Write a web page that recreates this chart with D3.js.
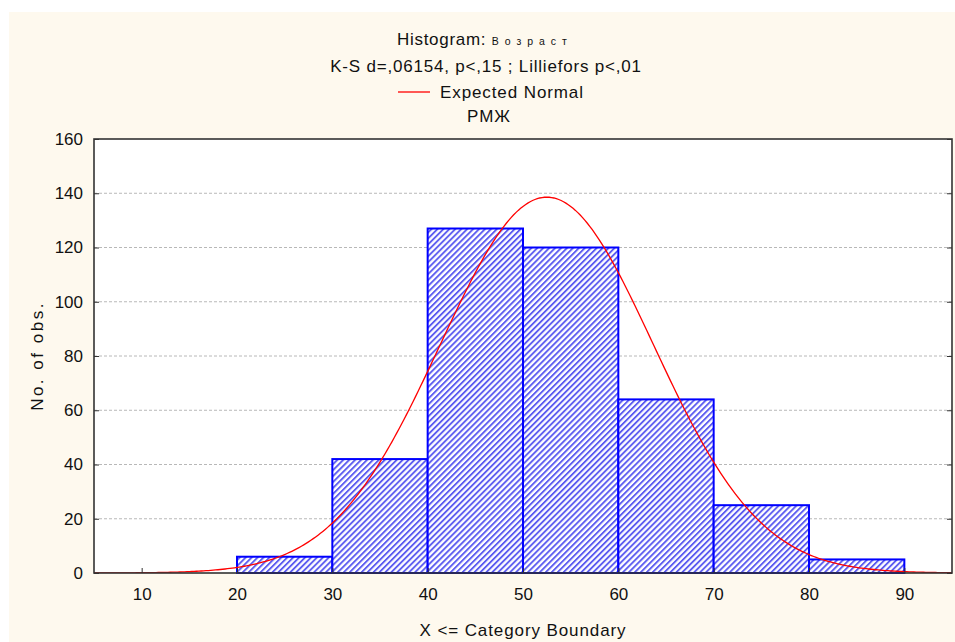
<!DOCTYPE html>
<html>
<head>
<meta charset="utf-8">
<script src="https://cdn.jsdelivr.net/npm/d3@7"></script>
<style>
  html, body { margin: 0; padding: 0; background: #ffffff; }
  svg { display: block; font-family: "Liberation Sans", Arial, sans-serif; }
</style>
</head>
<body>
<svg id="chart" width="955" height="642"></svg>
<script>
// ---- data ----
const binLower = [20, 30, 40, 50, 60, 70, 80];
const binUpper = [30, 40, 50, 60, 70, 80, 90];
const counts   = [6, 42, 127, 120, 64, 25, 5];
const xTicks = [10, 20, 30, 40, 50, 60, 70, 80, 90];
const yTicks = [0, 20, 40, 60, 80, 100, 120, 140, 160];
const xDomain = [5, 95];
const yDomain = [0, 160];
// expected normal parameters (fitted)
const normalN = 389, normalMean = 52.5, normalSD = 11.2, binWidth = 10;

const titleText = "Histogram:";
const titleVar = "Возраст";
const subtitle = "K-S d=,06154, p<,15 ; Lilliefors p<,01";
const legendText = "Expected Normal";
const groupText = "РМЖ";
const xLabel = "X <= Category Boundary";
const yLabel = "No. of obs.";

// ---- layout ----
const W = 955, H = 642;
const plot = { left: 94, right: 952, top: 139, bottom: 573 };

const svg = d3.select("#chart");

svg.append("rect").attr("x", 9).attr("y", 12).attr("width", W - 9).attr("height", H - 12)
  .attr("fill", "#fef9ee");

const x = d3.scaleLinear().domain(xDomain).range([plot.left, plot.right]);
const y = d3.scaleLinear().domain(yDomain).range([plot.bottom, plot.top]);

const defs = svg.append("defs");
const pat = defs.append("pattern").attr("id", "hatch")
  .attr("patternUnits", "userSpaceOnUse").attr("width", 4.2).attr("height", 4.2)
  .attr("patternTransform", "rotate(45)");
pat.append("rect").attr("width", 4.2).attr("height", 4.2).attr("fill", "#ffffff");
pat.append("rect").attr("width", 1.9).attr("height", 4.2).attr("fill", "#5c5cf0");

defs.append("clipPath").attr("id", "plotclip").append("rect")
  .attr("x", plot.left).attr("y", plot.top)
  .attr("width", plot.right - plot.left).attr("height", plot.bottom - plot.top);

// plot background
svg.append("rect").attr("x", plot.left).attr("y", plot.top)
  .attr("width", plot.right - plot.left).attr("height", plot.bottom - plot.top)
  .attr("fill", "#ffffff");

// gridlines
svg.append("g").selectAll("line").data(yTicks.filter(d => d > 0 && d < 160)).join("line")
  .attr("x1", plot.left).attr("x2", plot.right)
  .attr("y1", d => y(d)).attr("y2", d => y(d))
  .attr("stroke", "#b8b8b8").attr("stroke-width", 1).attr("stroke-dasharray", "3,2");

// bars
const bins = counts.map((c, i) => ({ lo: binLower[i], hi: binUpper[i], c }));
svg.append("g").selectAll("rect").data(bins).join("rect")
  .attr("x", d => x(d.lo)).attr("y", d => y(d.c))
  .attr("width", d => x(d.hi) - x(d.lo)).attr("height", d => y(0) - y(d.c))
  .attr("fill", "url(#hatch)").attr("stroke", "#0000ff").attr("stroke-width", 2);

// expected normal curve
const pdf = v => normalN * binWidth / (normalSD * Math.sqrt(2 * Math.PI)) *
  Math.exp(-0.5 * Math.pow((v - normalMean) / normalSD, 2));
const curvePts = d3.range(xDomain[0], xDomain[1] + 0.01, 0.25).map(v => [v, pdf(v)]);
svg.append("path").datum(curvePts)
  .attr("clip-path", "url(#plotclip)")
  .attr("d", d3.line().x(d => x(d[0])).y(d => y(d[1])))
  .attr("fill", "none").attr("stroke", "#ff0000").attr("stroke-width", 1.3);

// axes
const yAxis = d3.axisLeft(y).tickValues(yTicks).tickSize(-5).tickPadding(11);
const gy = svg.append("g").attr("transform", `translate(${plot.left},0)`).call(yAxis);
const yAxisR = d3.axisRight(y).tickValues(yTicks).tickSize(-5).tickFormat("");
const gyr = svg.append("g").attr("transform", `translate(${plot.right},0)`).call(yAxisR);
const xAxis = d3.axisBottom(x).tickValues(xTicks).tickSize(-5).tickPadding(15);
const gx = svg.append("g").attr("transform", `translate(0,${plot.bottom})`).call(xAxis);
[gy, gyr, gx].forEach(g => {
  g.select(".domain").remove();
  g.selectAll("line").attr("stroke", "#333").attr("stroke-width", 1);
  g.selectAll("text").attr("fill", "#111").style("font-size", "17px")
    .style("font-family", '"Liberation Sans", Arial, sans-serif');
});

// frame
svg.append("rect").attr("x", plot.left).attr("y", plot.top)
  .attr("width", plot.right - plot.left).attr("height", plot.bottom - plot.top)
  .attr("fill", "none").attr("stroke", "#333").attr("stroke-width", 1.6);

// titles
const cx = 485;
const t1 = svg.append("text").attr("x", cx).attr("y", 45).attr("text-anchor", "middle")
  .attr("fill", "#111").style("font-size", "17px").attr("letter-spacing", "0.7px");
t1.append("tspan").text(titleText + " ");
t1.append("tspan").style("font-size", "10.5px").attr("letter-spacing", "6px").text(titleVar);

svg.append("text").attr("x", cx + 1).attr("y", 72).attr("text-anchor", "middle")
  .attr("fill", "#111").style("font-size", "17px").attr("letter-spacing", "0.8px").text(subtitle);

svg.append("line").attr("x1", 398).attr("x2", 430).attr("y1", 92).attr("y2", 92)
  .attr("stroke", "#ff0000").attr("stroke-width", 1.3);
svg.append("text").attr("x", 440).attr("y", 98).attr("fill", "#111")
  .style("font-size", "17px").attr("letter-spacing", "0.9px").text(legendText);

svg.append("text").attr("x", cx + 4).attr("y", 122).attr("text-anchor", "middle")
  .attr("fill", "#111").style("font-size", "17px").attr("letter-spacing", "1px").text(groupText);

svg.append("text").attr("x", (plot.left + plot.right) / 2).attr("y", 636)
  .attr("text-anchor", "middle").attr("fill", "#111").style("font-size", "17px")
  .attr("letter-spacing", "0.9px").text(xLabel);

svg.append("text").attr("transform", `translate(43,${(plot.top + plot.bottom) / 2}) rotate(-90)`)
  .attr("text-anchor", "middle").attr("fill", "#111").style("font-size", "17px")
  .attr("letter-spacing", "2.5px").text(yLabel);
</script>
</body>
</html>
